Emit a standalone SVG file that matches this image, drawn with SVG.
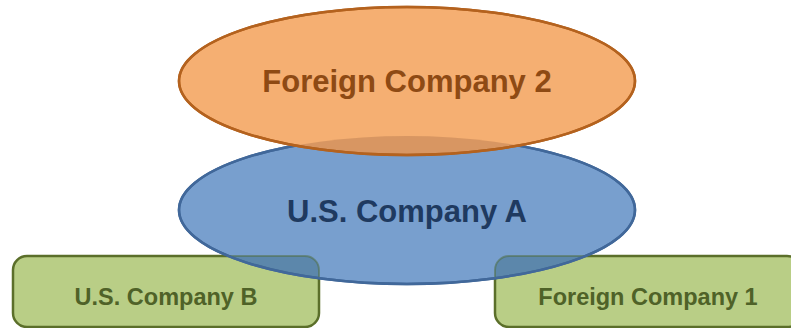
<svg xmlns="http://www.w3.org/2000/svg" width="791" height="328" viewBox="0 0 791 328">
  <style>
    .lbl { font-family: "Liberation Sans", Arial, sans-serif; font-weight: bold; text-anchor: middle; }
    .big { font-size: 31px; }
    .small { font-size: 23.5px; }
    .green { fill: #B9CE86; stroke: #5B6F2A; stroke-width: 2.5; }
    .blue { fill: #789FCE; stroke: #41689A; stroke-width: 2.5; }
    .orange { fill: #F5AF72; stroke: #B4621E; stroke-width: 2.5; }
  </style>
  <defs>
    <clipPath id="clipRects">
      <rect x="13" y="256" width="306" height="71" rx="14"/>
      <rect x="495" y="256" width="306" height="71" rx="14"/>
    </clipPath>
    <clipPath id="clipBlue">
      <ellipse cx="407" cy="210" rx="228" ry="74"/>
    </clipPath>
  </defs>
  <rect width="791" height="328" fill="#FFFFFF"/>
  <g id="connectors"/>
  <g id="node-us-company-b">
    <rect class="green" x="13" y="256" width="306" height="71" rx="14"/>
    <text class="lbl small" x="166" y="305" fill="#4F6228">U.S. Company B</text>
  </g>
  <g id="node-foreign-company-1">
    <rect class="green" x="495" y="256" width="306" height="71" rx="14"/>
    <text class="lbl small" x="648" y="305" fill="#4F6228">Foreign Company 1</text>
  </g>
  <g id="node-us-company-a">
    <ellipse class="blue" cx="407" cy="210" rx="228" ry="74"/>
    <ellipse cx="407" cy="210" rx="228" ry="74" fill="#3F7088" fill-opacity="0.5" clip-path="url(#clipRects)"/>
    <g clip-path="url(#clipBlue)" fill="none" stroke="#4E6B3A" stroke-width="2" stroke-opacity="0.5">
      <rect x="13" y="256" width="306" height="71" rx="14"/>
      <rect x="495" y="256" width="306" height="71" rx="14"/>
    </g>
    <ellipse cx="407" cy="210" rx="228" ry="74" fill="none" stroke="#41689A" stroke-width="2.5"/>
    <text class="lbl big" x="407" y="222" fill="#1F3A60">U.S. Company A</text>
  </g>
  <g id="node-foreign-company-2">
    <ellipse class="orange" cx="407" cy="81" rx="228" ry="74"/>
    <ellipse cx="407" cy="81" rx="228" ry="74" fill="#9A6440" fill-opacity="0.32" clip-path="url(#clipBlue)"/>
    <ellipse cx="407" cy="81" rx="228" ry="74" fill="none" stroke="#B4621E" stroke-width="2.5"/>
    <text class="lbl big" x="407" y="92" fill="#8E4A14">Foreign Company 2</text>
  </g>
</svg>
